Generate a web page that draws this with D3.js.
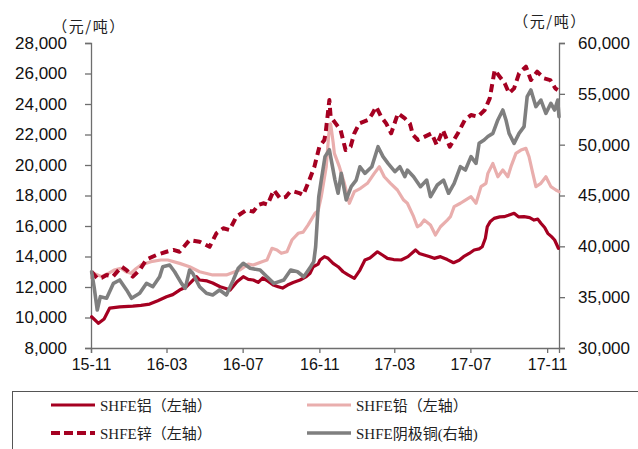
<!DOCTYPE html>
<html><head><meta charset="utf-8">
<script src="https://cdnjs.cloudflare.com/ajax/libs/d3/7.8.5/d3.min.js"></script>
<style>
html,body{margin:0;padding:0;background:#fff;}
svg{display:block;}
</style></head>
<body>
<svg id="chart" width="638" height="449"></svg>
<script>
// ---------- DATA ----------
const leftTicks = [8000,10000,12000,14000,16000,18000,20000,22000,24000,26000,28000];
const rightTicks = [30000,35000,40000,45000,50000,55000,60000];
const xTickDates = ["2015-11-01","2016-03-01","2016-07-01","2016-11-01","2017-03-01","2017-07-01","2017-11-01"];
const xTickLabels = ["15-11","16-03","16-07","16-11","17-03","17-07","17-11"];
const unitLabel = "（元/吨）";
const legendLabels = ["SHFE铝（左轴）","SHFE铅（左轴）","SHFE锌（左轴）","SHFE阴极铜(右轴)"];

const aluminium = [
["2015-11-02",10050],["2015-11-13",9620],["2015-11-22",9900],["2015-12-01",10620],["2015-12-17",10700],
["2016-01-07",10750],["2016-01-20",10800],["2016-02-03",10880],["2016-02-16",11100],["2016-03-01",11360],
["2016-03-11",11500],["2016-03-22",11800],["2016-04-02",12020],["2016-04-09",12300],["2016-04-18",12680],
["2016-04-23",12460],["2016-05-05",12400],["2016-05-14",12260],["2016-05-26",12020],["2016-06-04",11900],
["2016-06-11",11800],["2016-06-22",12350],["2016-07-02",12680],["2016-07-10",12500],["2016-07-18",12460],
["2016-07-26",12300],["2016-08-02",12590],["2016-08-10",12400],["2016-08-19",12130],["2016-08-27",12020],
["2016-09-03",11930],["2016-09-11",12130],["2016-09-20",12300],["2016-10-01",12460],["2016-10-11",12680],
["2016-10-17",12900],["2016-10-22",13330],["2016-10-30",13500],["2016-11-02",13770],["2016-11-09",13990],
["2016-11-15",13880],["2016-11-23",13550],["2016-12-01",13330],["2016-12-09",13000],["2016-12-17",12790],
["2016-12-27",12570],["2017-01-05",13110],["2017-01-13",13770],["2017-01-21",13900],["2017-02-02",14310],
["2017-02-10",14100],["2017-02-18",13880],["2017-02-28",13800],["2017-03-12",13770],["2017-03-23",13990],
["2017-04-04",14430],["2017-04-10",14200],["2017-04-18",14100],["2017-04-26",14000],["2017-05-04",13880],
["2017-05-14",13990],["2017-05-25",13800],["2017-06-04",13590],["2017-06-13",13750],["2017-06-20",13990],
["2017-06-29",14200],["2017-07-07",14430],["2017-07-15",14500],["2017-07-20",14640],["2017-07-25",15200],
["2017-07-28",15950],["2017-08-02",16300],["2017-08-08",16500],["2017-08-17",16600],["2017-08-24",16610],
["2017-08-31",16700],["2017-09-09",16830],["2017-09-16",16600],["2017-09-25",16610],["2017-10-04",16550],
["2017-10-11",16390],["2017-10-17",16450],["2017-10-22",16180],["2017-10-28",15900],["2017-11-02",15520],
["2017-11-08",15300],["2017-11-13",15080],["2017-11-19",14540]
];

const lead = [
["2015-11-02",12590],["2015-11-05",12900],["2015-11-18",12680],["2015-11-29",12900],["2015-12-08",13110],
["2015-12-19",13230],["2015-12-27",13000],["2016-01-04",12900],["2016-01-12",13200],["2016-01-20",13440],
["2016-02-05",13660],["2016-02-21",13770],["2016-03-03",13770],["2016-03-22",13550],["2016-04-07",13330],
["2016-04-23",13000],["2016-05-14",12790],["2016-06-05",12790],["2016-06-26",13110],["2016-07-10",13500],
["2016-07-18",13440],["2016-08-01",13660],["2016-08-09",13770],["2016-08-17",14540],["2016-08-25",14430],
["2016-09-01",14210],["2016-09-10",14310],["2016-09-18",15080],["2016-09-28",15520],["2016-10-06",15600],
["2016-10-14",16070],["2016-10-25",16830],["2016-10-30",17000],["2016-11-04",17920],["2016-11-12",19890],
["2016-11-16",22000],["2016-11-19",22700],["2016-11-23",21500],["2016-11-25",20760],["2016-12-03",19890],
["2016-12-11",18800],["2016-12-19",17490],["2016-12-27",18250],["2017-01-06",18470],["2017-01-17",18800],
["2017-01-28",19450],["2017-02-05",19890],["2017-02-13",19230],["2017-02-23",18800],["2017-03-06",18360],
["2017-03-16",17700],["2017-03-22",17490],["2017-04-01",16610],["2017-04-07",15950],["2017-04-12",16070],
["2017-04-18",16390],["2017-04-28",16070],["2017-05-06",15410],["2017-05-14",15950],["2017-05-25",16390],
["2017-05-30",16610],["2017-06-05",17270],["2017-06-15",17490],["2017-06-23",17700],["2017-07-02",17920],
["2017-07-10",17490],["2017-07-18",18580],["2017-07-26",18800],["2017-07-29",19450],["2017-08-06",20100],
["2017-08-14",19230],["2017-08-22",19670],["2017-08-30",19230],["2017-09-04",19890],["2017-09-12",20760],
["2017-09-20",20980],["2017-09-28",21090],["2017-10-03",20540],["2017-10-09",19450],["2017-10-14",18580],
["2017-10-22",18800],["2017-10-30",19230],["2017-11-07",18580],["2017-11-15",18360],["2017-11-20",18250]
];

const zinc = [
["2015-11-02",13000],["2015-11-11",12570],["2015-11-18",12600],["2015-11-26",12790],["2015-12-06",12680],
["2015-12-20",13330],["2015-12-28",13110],["2016-01-07",12680],["2016-01-18",13110],["2016-01-29",13810],
["2016-02-14",14100],["2016-03-01",14310],["2016-03-12",14430],["2016-03-22",14310],["2016-04-07",15080],
["2016-04-23",14970],["2016-05-01",14800],["2016-05-09",14640],["2016-05-20",15520],["2016-05-31",15850],
["2016-06-10",15740],["2016-06-21",16610],["2016-07-07",17050],["2016-07-18",16940],["2016-07-26",17380],
["2016-08-03",17490],["2016-08-10",17400],["2016-08-20",18360],["2016-08-30",17820],["2016-09-08",17900],
["2016-09-15",18250],["2016-09-22",18250],["2016-10-01",18140],["2016-10-06",18030],["2016-10-16",19020],
["2016-10-24",19890],["2016-11-01",21200],["2016-11-09",21640],["2016-11-11",22080],["2016-11-14",23170],
["2016-11-17",24260],["2016-11-19",23170],["2016-11-27",22730],["2016-12-05",22290],["2016-12-13",20980],
["2016-12-21",21200],["2016-12-27",22080],["2017-01-04",22730],["2017-01-18",22950],["2017-01-24",23300],
["2017-01-31",23820],["2017-02-08",23170],["2017-02-16",22730],["2017-02-24",22080],["2017-03-07",23390],
["2017-03-18",23060],["2017-03-26",22730],["2017-03-31",21970],["2017-04-08",21640],["2017-04-19",21860],
["2017-04-30",22080],["2017-05-08",21310],["2017-05-18",22290],["2017-05-29",21200],["2017-06-11",22080],
["2017-06-22",22950],["2017-07-02",23280],["2017-07-13",23170],["2017-07-24",23610],["2017-08-01",24370],
["2017-08-09",26230],["2017-08-17",25790],["2017-08-25",25360],["2017-09-01",24700],["2017-09-09",25030],
["2017-09-17",26010],["2017-09-28",26450],["2017-10-06",25570],["2017-10-16",26120],["2017-10-27",25680],
["2017-11-06",25570],["2017-11-14",25030],["2017-11-18",24920]
];

const copper = [
["2015-11-02",37500],["2015-11-06",36000],["2015-11-11",33740],["2015-11-16",35050],["2015-11-26",34890],
["2015-12-07",36360],["2015-12-17",36690],["2015-12-28",35710],["2016-01-05",34890],["2016-01-18",35380],
["2016-01-29",36360],["2016-02-08",36030],["2016-02-19",37010],["2016-02-24",38000],["2016-03-06",38160],
["2016-03-14",37500],["2016-03-25",36360],["2016-03-31",35870],["2016-04-07",37670],["2016-04-12",37350],
["2016-04-23",36030],["2016-05-04",35380],["2016-05-14",35210],["2016-05-25",35710],["2016-06-05",35210],
["2016-06-16",36690],["2016-06-24",37840],["2016-07-02",38330],["2016-07-13",37840],["2016-07-29",37670],
["2016-08-09",37010],["2016-08-20",36360],["2016-09-05",36690],["2016-09-16",37670],["2016-09-27",37500],
["2016-10-07",37010],["2016-10-18",38000],["2016-10-23",38500],["2016-10-26",39960],["2016-10-31",44880],
["2016-11-04",46500],["2016-11-10",48820],["2016-11-17",49500],["2016-11-20",48500],["2016-11-26",46520],
["2016-12-01",45220],["2016-12-06",47180],["2016-12-14",44560],["2016-12-22",45870],["2016-12-30",46520],
["2017-01-05",47830],["2017-01-13",47180],["2017-01-24",47830],["2017-02-03",49800],["2017-02-11",48820],
["2017-02-19",48160],["2017-03-02",47340],["2017-03-10",47830],["2017-03-18",46850],["2017-03-22",47500],
["2017-04-01",46850],["2017-04-12",45870],["2017-04-22",46520],["2017-04-28",44880],["2017-05-09",46030],
["2017-05-19",46520],["2017-05-27",45220],["2017-06-05",46200],["2017-06-15",47830],["2017-06-23",47510],
["2017-07-02",48820],["2017-07-10",48160],["2017-07-15",50130],["2017-07-23",50460],["2017-07-29",50800],
["2017-08-06",51110],["2017-08-14",52430],["2017-08-22",53410],["2017-08-27",52430],["2017-09-01",51110],
["2017-09-09",50130],["2017-09-17",51110],["2017-09-25",51770],["2017-09-30",54720],["2017-10-06",55380],
["2017-10-14",53740],["2017-10-22",54390],["2017-10-30",53080],["2017-11-07",54070],["2017-11-13",53410],
["2017-11-18",54390],["2017-11-20",52750]
];

// ---------- CHART ----------
const parse = d3.timeParse("%Y-%m-%d");
const svg = d3.select("#chart");
const m = {left: 91, right: 559, top: 43, bottom: 348};

const x = d3.scaleTime()
  .domain([parse("2015-11-01"), parse("2017-11-20")])
  .range([m.left, m.right]);
const yL = d3.scaleLinear().domain([8000, 28000]).range([m.bottom, m.top]);
const yR = d3.scaleLinear().domain([30000, 60000]).range([m.bottom, m.top]);

const axisColor = "#6e6e6e";
const tickFont = "'Liberation Sans', Arial, sans-serif";
const fmt = d3.format(",");

// left axis
const gL = svg.append("g").attr("transform", `translate(${m.left},0)`)
  .call(d3.axisLeft(yL).tickValues(leftTicks).tickFormat(fmt).tickSize(6).tickPadding(18));
// right axis
const gR = svg.append("g").attr("transform", `translate(${m.right},0)`)
  .call(d3.axisRight(yR).tickValues(rightTicks).tickFormat(fmt).tickSize(6).tickPadding(13));
// bottom axis
const gB = svg.append("g").attr("transform", `translate(0,${m.bottom})`)
  .call(d3.axisBottom(x).tickValues(xTickDates.map(parse))
    .tickFormat((d, i) => xTickLabels[i]).tickSize(5).tickPadding(6));

[gL, gR, gB].forEach(g => {
  g.select(".domain").attr("stroke", axisColor).attr("stroke-width", 1.3);
  g.selectAll(".tick line").attr("stroke", axisColor).attr("stroke-width", 1.3);
  g.selectAll(".tick text").attr("fill", "#111").attr("font-family", tickFont);
});
gL.selectAll(".tick text").attr("font-size", 17);
gR.selectAll(".tick text").attr("font-size", 17);
gB.selectAll(".tick text").attr("font-size", 16);

// unit labels
const unitFont = "'Noto Sans CJK SC', sans-serif";
svg.append("text").attr("x", 89).attr("y", 32).attr("text-anchor", "middle")
  .attr("font-family", unitFont).attr("font-size", 15).attr("letter-spacing", 1.5).attr("fill", "#222")
  .text(unitLabel);
svg.append("text").attr("x", 550).attr("y", 27).attr("text-anchor", "middle")
  .attr("font-family", unitFont).attr("font-size", 15).attr("letter-spacing", 1.5).attr("fill", "#222")
  .text(unitLabel);

// lines
const styles = [
  {data: aluminium, y: yL, color: "#A50021", width: 3.2, dash: null},
  {data: lead, y: yL, color: "#E9AEAD", width: 3.2, dash: null},
  {data: zinc, y: yL, color: "#A50021", width: 4, dash: "8,5"},
  {data: copper, y: yR, color: "#7F7F7F", width: 3.6, dash: null}
];
styles.forEach(s => {
  const line = d3.line().x(d => x(parse(d[0]))).y(d => s.y(d[1]));
  svg.append("path").datum(s.data)
    .attr("fill", "none").attr("stroke", s.color).attr("stroke-width", s.width)
    .attr("stroke-linejoin", "round").attr("stroke-linecap", s.dash ? "butt" : "round")
    .attr("stroke-dasharray", s.dash)
    .attr("d", line);
});

// legend
svg.append("rect").attr("x", 12.5).attr("y", 391.5).attr("width", 640).attr("height", 80)
  .attr("fill", "none").attr("stroke", "#555").attr("stroke-width", 1);
const legPos = [
  {x: 51, y: 405, s: styles[0]},
  {x: 307, y: 405, s: styles[1]},
  {x: 51, y: 433, s: styles[2]},
  {x: 307, y: 433, s: styles[3]}
];
legPos.forEach((p, i) => {
  svg.append("line").attr("x1", p.x).attr("x2", p.x + 44).attr("y1", p.y).attr("y2", p.y)
    .attr("stroke", p.s.color).attr("stroke-width", p.s.width)
    .attr("stroke-dasharray", p.s.dash ? "9,4" : null);
  svg.append("text").attr("x", p.x + 49).attr("y", p.y + 5.5)
    .attr("font-family", "'Liberation Serif', 'Times New Roman', 'Noto Sans CJK SC', serif")
    .attr("font-size", 15).attr("fill", "#222")
    .text(legendLabels[i]);
});
</script>
</body></html>
